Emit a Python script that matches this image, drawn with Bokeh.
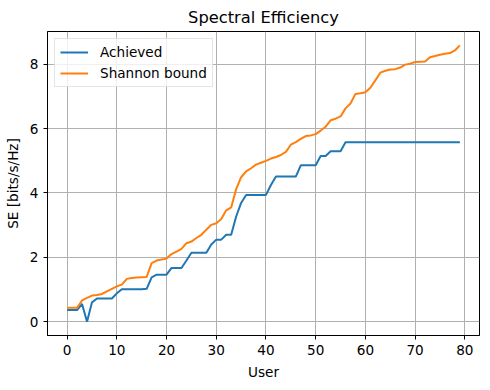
from bokeh.plotting import figure
from bokeh.models import Range1d, FixedTicker, Legend, LegendItem, ColumnDataSource
from bokeh.embed import file_html
from bokeh.resources import INLINE

users = list(range(80))
achieved = [0.36, 0.36, 0.36, 0.55, 0.0, 0.60, 0.72, 0.72, 0.72, 0.72,
            0.88, 1.01, 1.01, 1.01, 1.01, 1.01, 1.02, 1.38, 1.46, 1.46,
            1.46, 1.67, 1.67, 1.67, 1.90, 2.14, 2.14, 2.14, 2.14, 2.40,
            2.55, 2.55, 2.70, 2.70, 3.27, 3.69, 3.94, 3.94, 3.94, 3.94,
            3.94, 4.25, 4.51, 4.51, 4.51, 4.51, 4.51, 4.86, 4.86, 4.86,
            4.86, 5.15, 5.15, 5.30, 5.30, 5.30, 5.58, 5.58, 5.58, 5.58,
            5.58, 5.58, 5.58, 5.58, 5.58, 5.58, 5.58, 5.58, 5.58, 5.58,
            5.58, 5.58, 5.58, 5.58, 5.58, 5.58, 5.58, 5.58, 5.58, 5.58]
shannon = [0.43, 0.43, 0.43, 0.66, 0.74, 0.81, 0.83, 0.86, 0.94, 1.02,
           1.10, 1.15, 1.33, 1.36, 1.37, 1.38, 1.39, 1.82, 1.90, 1.93,
           1.96, 2.10, 2.18, 2.26, 2.44, 2.49, 2.60, 2.70, 2.86, 3.01,
           3.06, 3.19, 3.46, 3.55, 4.12, 4.49, 4.67, 4.77, 4.88, 4.94,
           5.00, 5.07, 5.12, 5.18, 5.28, 5.50, 5.58, 5.68, 5.77, 5.79,
           5.83, 5.94, 6.06, 6.26, 6.31, 6.38, 6.63, 6.78, 7.08, 7.10,
           7.13, 7.27, 7.50, 7.74, 7.80, 7.84, 7.85, 7.90, 7.99, 8.02,
           8.07, 8.08, 8.09, 8.22, 8.26, 8.30, 8.33, 8.35, 8.43, 8.59]
x_ticks = [0, 10, 20, 30, 40, 50, 60, 70, 80]
y_ticks = [0, 2, 4, 6, 8]

FONT = "DejaVu Sans"
FS = "13.6px"

p = figure(width=481, height=382, output_backend="svg", toolbar_location=None,
           x_range=Range1d(-3.95, 82.95), y_range=Range1d(-0.43, 9.02),
           min_border_left=47, min_border_right=2, min_border_top=31,
           min_border_bottom=47)

p.title.text = "Spectral Efficiency"
p.title.align = "center"
p.title.text_font = FONT
p.title.text_font_size = "16.3px"
p.title.text_font_style = "normal"
p.title.text_color = "black"

src = ColumnDataSource(dict(u=users, a=achieved, s=shannon))
r1 = p.line("u", "a", source=src, line_color="#1f77b4", line_width=2)
r2 = p.line("u", "s", source=src, line_color="#ff7f0e", line_width=2)

p.xaxis.ticker = FixedTicker(ticks=x_ticks)
p.yaxis.ticker = FixedTicker(ticks=y_ticks)
p.xaxis.axis_label = "User"
p.yaxis.axis_label = "SE [bits/s/Hz]"
for ax in (p.xaxis[0], p.yaxis[0]):
    ax.axis_label_text_font = FONT
    ax.axis_label_text_font_size = FS
    ax.axis_label_text_font_style = "normal"
    ax.axis_label_text_color = "black"
    ax.major_label_text_font = FONT
    ax.major_label_text_font_size = FS
    ax.major_label_text_color = "black"
    ax.major_tick_in = 0
    ax.major_tick_out = 4
    ax.minor_tick_out = 0
    ax.minor_tick_in = 0
    ax.axis_line_color = "black"
    ax.major_tick_line_color = "black"
    ax.axis_label_standoff = 6
p.yaxis.major_label_orientation = "horizontal"

p.xgrid.grid_line_color = "#b0b0b0"
p.ygrid.grid_line_color = "#b0b0b0"
p.xgrid.grid_line_width = 1
p.ygrid.grid_line_width = 1
p.outline_line_color = "black"
p.outline_line_width = 1
p.background_fill_color = "white"
p.border_fill_color = "white"

legend = Legend(items=[LegendItem(label="Achieved", renderers=[r1]),
                       LegendItem(label="Shannon bound", renderers=[r2])],
                location="top_left")
legend.label_text_font = FONT
legend.label_text_font_size = FS
legend.label_text_color = "black"
legend.glyph_width = 28
legend.glyph_height = 14
legend.spacing = 5
legend.padding = 5
legend.margin = 7
legend.label_standoff = 12
legend.border_line_color = "#cccccc"
legend.border_line_width = 1
legend.background_fill_alpha = 0.8
p.add_layout(legend)

open("out.html", "w").write(file_html(p, INLINE))
